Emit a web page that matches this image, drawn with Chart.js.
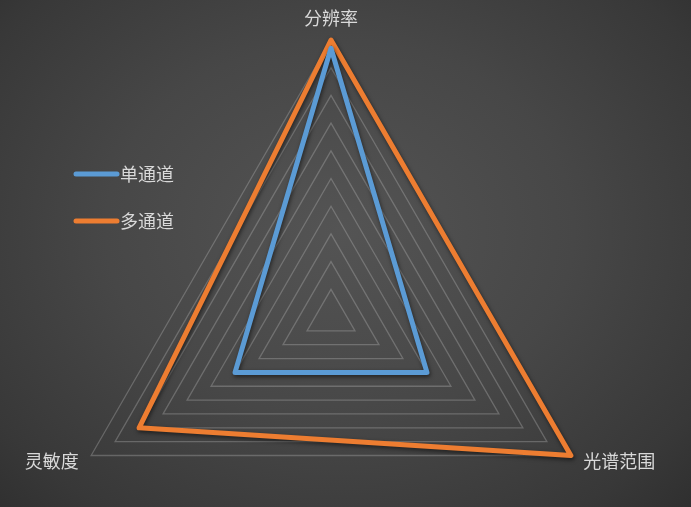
<!DOCTYPE html>
<html>
<head>
<meta charset="utf-8">
<script src="https://cdn.jsdelivr.net/npm/chart.js@4/dist/chart.umd.min.js"></script>
<style>
  html, body { margin: 0; padding: 0; }
  body { width: 691px; height: 507px; overflow: hidden; }
  #wrap {
    position: relative;
    width: 691px;
    height: 507px;
    overflow: hidden;
    background: radial-gradient(ellipse 520px 420px at 340px 230px, #545454 0%, #474747 45%, #383838 80%, #2c2c2c 100%);
  }
  #chart { position: absolute; left: 0; top: 0; }
</style>
</head>
<body>
<div id="wrap">
  <canvas id="chart" width="691" height="600"></canvas>
</div>
<script>
// categories, clockwise from the top
const categories = ['分辨率', '光谱范围', '灵敏度'];
const seriesNames = ['单通道', '多通道'];
const singleChannel = [9.7, 4, 4];
const multiChannel = [10, 10, 8];
const seriesColors = ['#5b9bd5', '#ed7d31'];

const FONT = '"Noto Sans CJK SC", "Noto Sans", sans-serif';

// shadow under the series lines, like the office style
const lineShadow = {
  id: 'lineShadow',
  beforeDatasetsDraw(chart) {
    const ctx = chart.ctx;
    ctx.save();
    ctx.shadowColor = 'rgba(0,0,0,0.55)';
    ctx.shadowBlur = 4;
    ctx.shadowOffsetX = 1;
    ctx.shadowOffsetY = 2;
  },
  afterDatasetsDraw(chart) {
    chart.ctx.restore();
  }
};

// category labels around the radar + legend on the left
const labelsAndLegend = {
  id: 'labelsAndLegend',
  afterDraw(chart) {
    const ctx = chart.ctx;
    const scale = chart.scales.r;
    ctx.save();
    ctx.font = '18px ' + FONT;
    ctx.fillStyle = '#d9d9d9';
    ctx.textBaseline = 'middle';
    chart.data.labels.forEach((lab, i) => {
      const p = scale.getPointPosition(i, scale.drawingArea + 12);
      const dx = p.x - scale.xCenter;
      if (Math.abs(dx) < 1) {
        ctx.textAlign = 'center';
        ctx.fillText(lab, p.x, p.y - 10);
      } else if (dx > 0) {
        ctx.textAlign = 'left';
        ctx.fillText(lab, p.x + 2, p.y);
      } else {
        ctx.textAlign = 'right';
        ctx.fillText(lab, p.x - 2, p.y);
      }
    });

    // legend
    ctx.textAlign = 'left';
    ctx.font = '18px ' + FONT;
    chart.data.datasets.forEach((ds, i) => {
      const y = 174 + i * 47;
      ctx.strokeStyle = ds.borderColor;
      ctx.lineWidth = 5;
      ctx.lineCap = 'round';
      ctx.beginPath();
      ctx.moveTo(76, y);
      ctx.lineTo(117, y);
      ctx.stroke();
      ctx.fillStyle = '#d9d9d9';
      ctx.fillText(ds.label, 120, y);
    });
    ctx.restore();
  }
};

new Chart(document.getElementById('chart'), {
  type: 'radar',
  data: {
    labels: categories,
    datasets: [
      {
        label: seriesNames[0],
        data: singleChannel,
        borderColor: seriesColors[0],
        backgroundColor: 'transparent',
        borderWidth: 5,
        borderJoinStyle: 'round',
        pointRadius: 0,
        fill: false
      },
      {
        label: seriesNames[1],
        data: multiChannel,
        borderColor: seriesColors[1],
        backgroundColor: 'transparent',
        borderWidth: 5,
        borderJoinStyle: 'round',
        pointRadius: 0,
        fill: false
      }
    ]
  },
  options: {
    responsive: false,
    animation: false,
    layout: { padding: { left: 0, right: 29, top: 40, bottom: 6 } },
    plugins: {
      legend: { display: false },
      tooltip: { enabled: false }
    },
    scales: {
      r: {
        min: 0,
        max: 10,
        ticks: { display: false, stepSize: 1 },
        angleLines: { display: false },
        grid: { color: 'rgba(200,200,200,0.3)', lineWidth: 1.3 },
        pointLabels: { display: false }
      }
    }
  },
  plugins: [lineShadow, labelsAndLegend]
});
</script>
</body>
</html>
